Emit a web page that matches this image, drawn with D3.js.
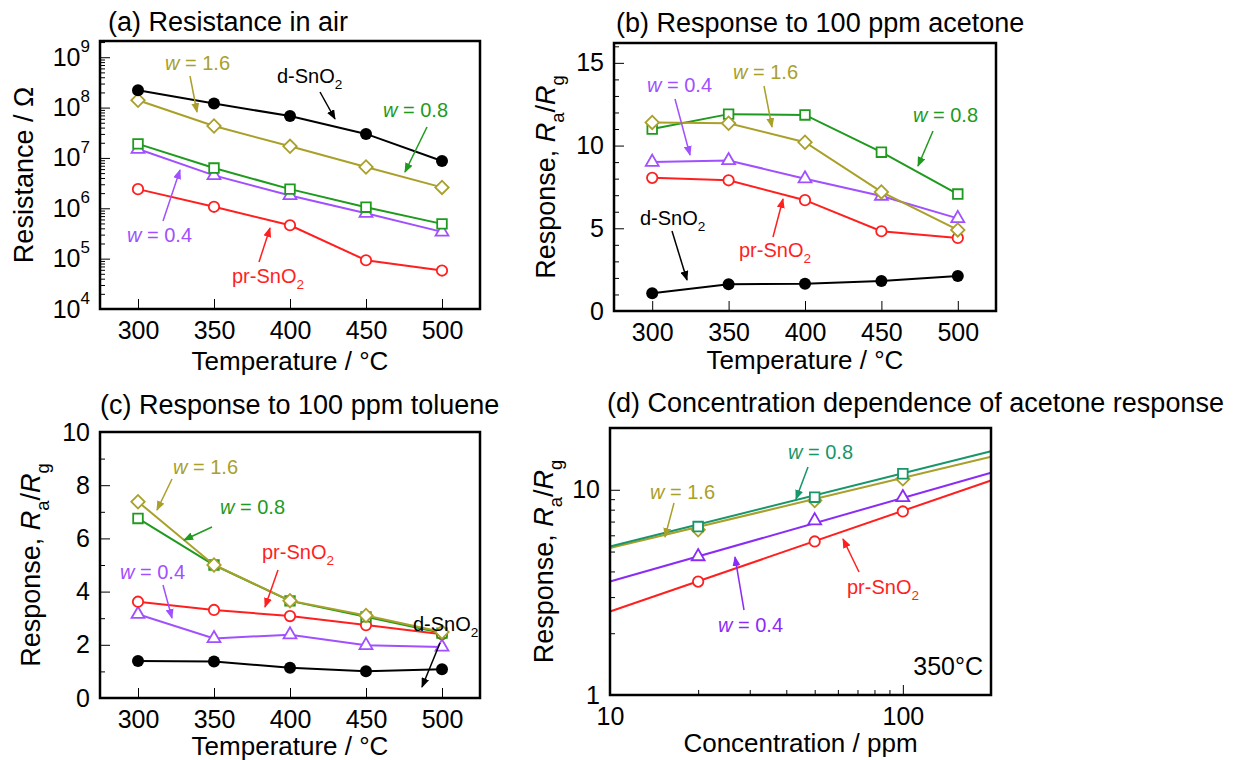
<!DOCTYPE html>
<html>
<head>
<meta charset="utf-8">
<script src="https://cdn.jsdelivr.net/npm/d3@7"></script>
<style>
  body { margin: 0; background: #fff; }
  svg { font-family: "Liberation Sans", Arial, sans-serif; }
</style>
</head>
<body>
<svg id="fig" width="1244" height="760"></svg>
<script>
// ---- data ----
const temps = [300, 350, 400, 450, 500];

// (a) resistance in air, ohm
const resD  = [2.2e8, 1.2e8, 6.8e7, 3.0e7, 8.7e6];
const res16 = [1.4e8, 4.3e7, 1.7e7, 6.6e6, 2.6e6];
const res08 = [1.9e7, 6.3e6, 2.4e6, 1.05e6, 4.9e5];
const res04 = [1.5e7, 4.5e6, 1.8e6, 8.0e5, 3.4e5];
const resPr = [2.4e6, 1.07e6, 4.6e5, 9.3e4, 5.8e4];

// (b) response to 100 ppm acetone
const aceD  = [1.08, 1.62, 1.65, 1.81, 2.11];
const ace16 = [11.4, 11.35, 10.2, 7.2, 4.9];
const ace08 = [11.0, 11.9, 11.85, 9.6, 7.07];
const ace04 = [9.0, 9.1, 8.0, 6.95, 5.6];
const acePr = [8.05, 7.9, 6.7, 4.82, 4.42];

// (c) response to 100 ppm toluene
const tolD  = [1.39, 1.37, 1.14, 1.01, 1.08];
const tol16 = [7.38, 5.0, 3.66, 3.1, 2.48];
const tol08 = [6.75, 5.0, 3.65, 3.05, 2.44];
const tol04 = [3.15, 2.24, 2.38, 1.98, 1.92];
const tolPr = [3.62, 3.31, 3.08, 2.74, 2.4];

// (d) concentration dependence at 350 °C
const conc   = [20, 50, 100];
const conc08 = [6.62, 9.2, 11.97];
const conc16 = [6.38, 8.87, 11.3];
const conc04 = [4.73, 7.08, 9.17];
const concPr = [3.57, 5.6, 7.84];
// fitted lines, values at 10 and 200 ppm
const fitConc = [10, 200];
const fit08 = [5.29, 15.4];
const fit16 = [5.2, 14.5];
const fit04 = [3.57, 12.1];
const fitPr = [2.55, 11.1];

const C = {
  black: "#000000", red: "#ff1f1f", purple: "#a050ff", green: "#1e9a1e",
  olive: "#a9a02a", teal: "#17966a", purpleD: "#8a2cf5"
};

const svg = d3.select("#fig");
const defs = svg.append("defs");
Object.entries(C).forEach(([k, c]) => {
  defs.append("marker")
    .attr("id", "arr-" + k)
    .attr("markerUnits", "userSpaceOnUse")
    .attr("markerWidth", 10).attr("markerHeight", 8)
    .attr("refX", 9).attr("refY", 4)
    .attr("orient", "auto")
    .append("path").attr("d", "M0,0L10,4L0,8Z").attr("fill", c);
});

// rich text: parts = [[text, style]], style: i (italic), sub, sup
function rich(sel, parts) {
  let shift = 0;
  parts.forEach(([t, s]) => {
    const ts = sel.append("tspan").text(t);
    const small = s && (s.includes("sub") || s.includes("sup"));
    let target = 0;
    if (s && s.includes("sub")) target = 0.32;
    if (s && s.includes("sup")) target = -0.55;
    if (small) ts.attr("font-size", "0.68em");
    if (s && s.includes("i")) ts.attr("font-style", "italic");
    const fs = small ? 0.68 : 1;
    if (target !== shift) ts.attr("dy", ((target - shift) / fs) + "em");
    shift = target;
  });
  return sel;
}

const wLab = v => [["w", "i"], [" = " + v]];
const snLab = p => [[p + "-SnO"], ["2", "sub"]];
const respLab = [["Response, "], ["R", "i"], ["a", "sub"], ["/"], ["R", "i"], ["g", "sub"]];

function drawMarks(g, pts, shape, color) {
  const s = g.selectAll(null).data(pts);
  if (shape === "dot") {
    s.join("circle").attr("cx", d => d[0]).attr("cy", d => d[1]).attr("r", 6).attr("fill", color);
  } else if (shape === "circle") {
    s.join("circle").attr("cx", d => d[0]).attr("cy", d => d[1]).attr("r", 5.2)
      .attr("fill", "#fff").attr("stroke", color).attr("stroke-width", 1.8);
  } else {
    const sym = shape === "triangle" ? d3.symbol(d3.symbolTriangle, 72)
      : d3.symbol(d3.symbolSquare, shape === "square" ? 92 : 90);
    s.join("path").attr("d", sym)
      .attr("transform", d => `translate(${d[0]},${d[1]})` + (shape === "diamond" ? " rotate(45)" : ""))
      .attr("fill", "#fff").attr("stroke", color).attr("stroke-width", 1.8);
  }
}

function panel(cfg) {
  const g = svg.append("g").attr("transform", `translate(${cfg.left},${cfg.top})`);
  const w = cfg.width, h = cfg.height;
  const x = cfg.x.range([0, w]);
  const y = cfg.y.range([h, 0]);

  // title
  g.append("text").attr("x", cfg.titleX).attr("y", cfg.titleY)
    .attr("font-size", 27).text(cfg.title);

  // minor ticks
  g.append("g").attr("transform", `translate(0,${h})`)
    .call(d3.axisBottom(x).tickValues(cfg.xMinor).tickSize(-5).tickFormat(""))
    .call(a => a.select(".domain").remove());
  g.append("g")
    .call(d3.axisLeft(y).tickValues(cfg.yMinor).tickSize(-5).tickFormat(""))
    .call(a => a.select(".domain").remove());

  // major ticks
  const xa = g.append("g").attr("transform", `translate(0,${h})`)
    .call(d3.axisBottom(x).tickValues(cfg.xMajor).tickSize(-10).tickPadding(12)
      .tickFormat(cfg.xFmt || d3.format("d")))
    .call(a => a.select(".domain").remove());
  xa.attr("font-family", null).attr("font-size", 25);

  const ya = g.append("g")
    .call(d3.axisLeft(y).tickValues(cfg.yMajor).tickSize(-10).tickPadding(10)
      .tickFormat(cfg.yPow ? "" : (cfg.yFmt || d3.format("d"))))
    .call(a => a.select(".domain").remove());
  ya.attr("font-family", null).attr("font-size", 25);
  if (cfg.yPow) {
    ya.selectAll(".tick text").each(function (d) {
      const t = d3.select(this).text("");
      rich(t, [["10"], [String(Math.round(Math.log10(d))), "sup"]]);
    });
  }

  // axis labels
  g.append("text").attr("x", w / 2).attr("y", h + cfg.xLabelDy)
    .attr("text-anchor", "middle").attr("font-size", 26).text(cfg.xLabel);
  rich(g.append("text")
    .attr("transform", `translate(${-cfg.yLabelDx},${h / 2}) rotate(-90)`)
    .attr("text-anchor", "middle").attr("font-size", 27), cfg.yLabel);

  // series
  cfg.series.forEach(s => {
    const pts = s.xs.map((v, i) => [x(v), y(s.ys[i])]);
    const linePts = s.fitX ? s.fitX.map((v, i) => [x(v), y(s.fitY[i])]) : pts;
    g.append("path").attr("d", d3.line()(linePts))
      .attr("fill", "none").attr("stroke", s.color).attr("stroke-width", 2);
    drawMarks(g.append("g"), pts, s.shape, s.color);
  });

  // frame
  g.append("rect").attr("width", w).attr("height", h)
    .attr("fill", "none").attr("stroke", "#000").attr("stroke-width", 2.5);

  // annotations (positions relative to the plot frame)
  cfg.notes.forEach(n => {
    if (n.arrow) {
      g.append("line")
        .attr("x1", n.arrow[0]).attr("y1", n.arrow[1])
        .attr("x2", n.arrow[2]).attr("y2", n.arrow[3])
        .attr("stroke", C[n.c]).attr("stroke-width", 1.5)
        .attr("marker-end", `url(#arr-${n.c})`);
    }
    rich(g.append("text").attr("x", n.x).attr("y", n.y)
      .attr("text-anchor", n.anchor || "start")
      .attr("font-size", n.fs || 20).attr("fill", C[n.c]), n.parts);
  });
}

const tempMinor = [];
const lin = (a, b, st) => d3.range(a, b + 1e-9, st);

// (a)
panel({
  left: 100, top: 41, width: 380, height: 268,
  title: "(a) Resistance in air", titleX: 8, titleY: -10,
  x: d3.scaleLinear().domain([275, 525]),
  y: d3.scaleLog().domain([1e4, 2.1e9]),
  xMajor: temps, xMinor: tempMinor,
  yMajor: [1e4, 1e5, 1e6, 1e7, 1e8, 1e9], yPow: true,
  yMinor: d3.scaleLog().domain([1e4, 2.1e9]).ticks().filter(v => Math.abs(Math.log10(v) % 1) > 1e-6),
  xLabel: "Temperature / °C", xLabelDy: 61,
  yLabel: [["Resistance / Ω"]], yLabelDx: 67,
  series: [
    { xs: temps, ys: resPr, color: C.red, shape: "circle" },
    { xs: temps, ys: res04, color: C.purple, shape: "triangle" },
    { xs: temps, ys: res08, color: C.green, shape: "square" },
    { xs: temps, ys: res16, color: C.olive, shape: "diamond" },
    { xs: temps, ys: resD, color: C.black, shape: "dot" }
  ],
  notes: [
    { parts: wLab("1.6"), c: "olive", x: 65, y: 29, arrow: [90, 35, 97, 71] },
    { parts: snLab("d"), c: "black", x: 177, y: 42, arrow: [220, 51, 235, 78] },
    { parts: wLab("0.8"), c: "green", x: 283, y: 76, arrow: [327, 86, 305, 131] },
    { parts: wLab("0.4"), c: "purple", x: 27, y: 201, arrow: [63, 180, 80, 129] },
    { parts: snLab("pr"), c: "red", x: 132, y: 242, arrow: [159, 221, 170, 187] }
  ]
});

// (b)
panel({
  left: 614, top: 43, width: 382, height: 268,
  title: "(b) Response to 100 ppm acetone", titleX: 2, titleY: -11,
  x: d3.scaleLinear().domain([275, 525]),
  y: d3.scaleLinear().domain([0, 16.2]),
  xMajor: temps, xMinor: tempMinor,
  yMajor: [0, 5, 10, 15], yMinor: lin(1, 16, 1).filter(v => v % 5),
  xLabel: "Temperature / °C", xLabelDy: 58,
  yLabel: respLab, yLabelDx: 59,
  series: [
    { xs: temps, ys: aceD, color: C.black, shape: "dot" },
    { xs: temps, ys: acePr, color: C.red, shape: "circle" },
    { xs: temps, ys: ace04, color: C.purple, shape: "triangle" },
    { xs: temps, ys: ace08, color: C.green, shape: "square" },
    { xs: temps, ys: ace16, color: C.olive, shape: "diamond" }
  ],
  notes: [
    { parts: wLab("0.4"), c: "purple", x: 33, y: 49, arrow: [61, 56, 76, 112] },
    { parts: wLab("1.6"), c: "olive", x: 119, y: 36, arrow: [150, 43, 158, 84] },
    { parts: wLab("0.8"), c: "green", x: 299, y: 79, arrow: [319, 88, 304, 123] },
    { parts: snLab("pr"), c: "red", x: 125, y: 214, arrow: [159, 194, 169, 156] },
    { parts: snLab("d"), c: "black", x: 26, y: 182, arrow: [58, 188, 73, 237] }
  ]
});

// (c)
panel({
  left: 100, top: 432, width: 380, height: 266,
  title: "(c) Response to 100 ppm toluene", titleX: 0, titleY: -18,
  x: d3.scaleLinear().domain([275, 525]),
  y: d3.scaleLinear().domain([0, 10]),
  xMajor: temps, xMinor: tempMinor,
  yMajor: lin(0, 10, 2), yMinor: lin(1, 9, 2),
  xLabel: "Temperature / °C", xLabelDy: 57,
  yLabel: respLab, yLabelDx: 60,
  series: [
    { xs: temps, ys: tolD, color: C.black, shape: "dot" },
    { xs: temps, ys: tol04, color: C.purple, shape: "triangle" },
    { xs: temps, ys: tolPr, color: C.red, shape: "circle" },
    { xs: temps, ys: tol08, color: C.green, shape: "square" },
    { xs: temps, ys: tol16, color: C.olive, shape: "diamond" }
  ],
  notes: [
    { parts: wLab("1.6"), c: "olive", x: 73, y: 42, arrow: [72, 47, 57, 78] },
    { parts: wLab("0.8"), c: "green", x: 120, y: 82, arrow: [112, 95, 84, 108] },
    { parts: snLab("pr"), c: "red", x: 162, y: 127, arrow: [178, 138, 165, 175] },
    { parts: wLab("0.4"), c: "purple", x: 20, y: 147, arrow: [63, 153, 72, 186] },
    { parts: snLab("d"), c: "black", x: 313, y: 199, arrow: [340, 211, 322, 255] }
  ]
});

// (d)
panel({
  left: 610, top: 428, width: 381, height: 267,
  title: "(d) Concentration dependence of acetone response", titleX: -3, titleY: -16,
  x: d3.scaleLog().domain([10, 200]),
  y: d3.scaleLog().domain([1, 20]),
  xMajor: [10, 100], xMinor: [20, 30, 40, 50, 60, 70, 80, 90, 200],
  yMajor: [1, 10], yMinor: [2, 3, 4, 5, 6, 7, 8, 9, 20],
  xLabel: "Concentration / ppm", xLabelDy: 57,
  yLabel: respLab, yLabelDx: 57,
  series: [
    { xs: conc, ys: concPr, fitX: fitConc, fitY: fitPr, color: C.red, shape: "circle" },
    { xs: conc, ys: conc04, fitX: fitConc, fitY: fit04, color: C.purpleD, shape: "triangle" },
    { xs: conc, ys: conc16, fitX: fitConc, fitY: fit16, color: C.olive, shape: "diamond" },
    { xs: conc, ys: conc08, fitX: fitConc, fitY: fit08, color: C.teal, shape: "square" }
  ],
  notes: [
    { parts: wLab("0.8"), c: "teal", x: 178, y: 31, arrow: [198, 39, 186, 71] },
    { parts: wLab("1.6"), c: "olive", x: 40, y: 71, arrow: [64, 75, 55, 109] },
    { parts: wLab("0.4"), c: "purpleD", x: 108, y: 204, arrow: [134, 182, 125, 129] },
    { parts: snLab("pr"), c: "red", x: 237, y: 166, arrow: [249, 144, 233, 111] },
    { parts: [["350°C"]], c: "black", x: 373, y: 247, anchor: "end", fs: 25 }
  ]
});
</script>
</body>
</html>
